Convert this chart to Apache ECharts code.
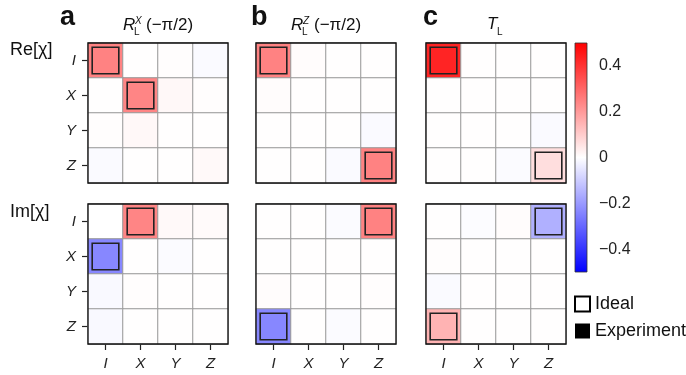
<!DOCTYPE html>
<html><head><meta charset="utf-8">
<script src="https://cdn.jsdelivr.net/npm/echarts@6/dist/echarts.min.js"></script>
<style>html,body{margin:0;padding:0;background:#fff}#c{width:686px;height:375px}</style>
</head><body><div id="c"></div>
<script>
const categories = ['I', 'X', 'Y', 'Z'];
// experiment matrices: rows top→bottom I,X,Y,Z ; cols left→right I,X,Y,Z
const expReA = [
  [0.245, 0.002, 0.003, -0.010],
  [0.002, 0.240, 0.013, 0.003],
  [0.003, 0.013, 0.002, 0.002],
  [-0.010, 0.002, 0.002, 0.012]
];
const expReB = [
  [0.245, 0.005, 0.001, 0.001],
  [0.005, 0.001, 0.001, 0.001],
  [0.001, 0.001, 0.001, -0.010],
  [0.001, 0.001, -0.010, 0.245]
];
const expReC = [
  [0.430, 0.001, 0.001, 0.001],
  [0.001, 0.001, 0.001, 0.001],
  [0.001, 0.001, 0.001, -0.010],
  [0.001, 0.001, -0.008, 0.065]
];
const expImA = [
  [0.000, 0.240, 0.012, 0.010],
  [-0.235, 0.001, -0.008, 0.001],
  [-0.012, 0.004, 0.001, 0.001],
  [-0.012, 0.001, 0.001, 0.001]
];
const expImB = [
  [0.001, 0.001, -0.008, 0.245],
  [0.001, 0.001, 0.001, 0.001],
  [0.006, 0.001, 0.001, 0.003],
  [-0.235, 0.001, -0.008, 0.001]
];
const expImC = [
  [0.001, -0.006, 0.006, -0.155],
  [0.004, 0.001, 0.001, 0.001],
  [-0.010, 0.001, 0.001, 0.001],
  [0.150, 0.001, 0.001, 0.001]
];
// ideal nonzero entries: [row, col, value]
const idealReA = [[0, 0, 0.25], [1, 1, 0.25]];
const idealReB = [[0, 0, 0.25], [3, 3, 0.25]];
const idealReC = [[0, 0, 0.427], [3, 3, 0.073]];
const idealImA = [[0, 1, 0.25], [1, 0, -0.25]];
const idealImB = [[0, 3, 0.25], [3, 0, -0.25]];
const idealImC = [[0, 3, -0.177], [3, 0, 0.177]];
const cbRange = [-0.5, 0.5];
const cbTicks = [-0.4, -0.2, 0, 0.2, 0.4];

const expMats = [expReA, expReB, expReC, expImA, expImB, expImC];
const idealLists = [idealReA, idealReB, idealReC, idealImA, idealImB, idealImC];

const FONT = 'Liberation Sans';
const colLeft = [88, 256, 426];
const rowTop = [43, 204];
const SIZE = 140;

const grids = [], xAxes = [], yAxes = [], series = [];
for (let p = 0; p < 6; p++) {
  const r = Math.floor(p / 3), c = p % 3;
  grids.push({left: colLeft[c], top: rowTop[r], width: SIZE, height: SIZE,
    show: true, borderColor: '#111', borderWidth: 1.3, backgroundColor: 'transparent', z: 10});
  xAxes.push({type: 'category', gridIndex: p, data: categories, position: 'bottom',
    axisLine: {show: false}, splitLine: {show: false},
    axisTick: {show: r === 1, alignWithLabel: true, length: 6, lineStyle: {color: '#222', width: 1.2}},
    axisLabel: {show: r === 1, margin: 12, fontSize: 15, fontStyle: 'italic', color: '#222', fontFamily: FONT}});
  yAxes.push({type: 'category', gridIndex: p, data: categories, inverse: true,
    axisLine: {show: false}, splitLine: {show: false},
    axisTick: {show: c === 0, alignWithLabel: true, length: 6, lineStyle: {color: '#222', width: 1.2}},
    axisLabel: {show: c === 0, margin: 12, fontSize: 15, fontStyle: 'italic', color: '#222', fontFamily: FONT}});
  const data = [];
  expMats[p].forEach((row, i) => row.forEach((v, j) => data.push([j, i, v])));
  series.push({name: 'Experiment', type: 'heatmap', xAxisIndex: p, yAxisIndex: p, data,
    itemStyle: {borderColor: '#999', borderWidth: 1}, emphasis: {disabled: true}, z: 2});
}
for (let p = 0; p < 6; p++) {
  series.push({name: 'Ideal', type: 'custom', xAxisIndex: p, yAxisIndex: p,
    data: idealLists[p].map(d => [d[1], d[0], d[2]]),
    renderItem: (params, api) => {
      const ctr = api.coord([api.value(0), api.value(1)]);
      const s = api.size([1, 1]);
      const w = s[0] * 0.76;
      return {type: 'rect', shape: {x: ctr[0] - w / 2, y: ctr[1] - w / 2, width: w, height: w},
        style: {fill: 'rgba(0,0,0,0)', stroke: '#222', lineWidth: 1.6}};
    }, z: 5, silent: true});
}
// colorbar
grids.push({left: 575, top: 43, width: 12, height: 229});
xAxes.push({type: 'value', gridIndex: 6, min: 0, max: 1, show: false});
yAxes.push({type: 'value', gridIndex: 6, min: cbRange[0], max: cbRange[1], position: 'right',
  axisLine: {show: false}, splitLine: {show: false},
  axisTick: {show: true, length: 5, customValues: cbTicks, lineStyle: {color: '#222', width: 1.2}},
  axisLabel: {show: true, margin: 12, fontSize: 16, color: '#222', fontFamily: FONT, customValues: cbTicks,
    formatter: v => (v < 0 ? '\u2212' : '') + String(Math.abs(Math.round(v * 10) / 10))}});
series.push({type: 'custom', name: 'colorbar', xAxisIndex: 6, yAxisIndex: 6, data: [[0, cbRange[1], 1, cbRange[0]]],
  renderItem: (params, api) => {
    const p1 = api.coord([api.value(0), api.value(1)]);
    const p2 = api.coord([api.value(2), api.value(3)]);
    return {type: 'rect', shape: {x: p1[0], y: p1[1], width: p2[0] - p1[0], height: p2[1] - p1[1]},
      style: {fill: {type: 'linear', x: 0, y: 0, x2: 0, y2: 1, colorStops: [
        {offset: 0, color: '#ff0000'}, {offset: 0.5, color: '#ffffff'}, {offset: 1, color: '#0000ff'}]},
        stroke: '#333', lineWidth: 0.8}};
  }, silent: true});

const txt = (text, x, y, font, align) => ({type: 'text', x, y, silent: true,
  style: {text, font, fill: '#111', textAlign: align || 'left', textVerticalAlign: 'middle'}});
const graphic = [
  txt('a', 60, 18, `900 27px "${FONT}"`),
  txt('b', 251, 18, `900 27px "${FONT}"`),
  txt('c', 423, 18, `900 27px "${FONT}"`),
  txt('Re[\u03c7]', 10, 50, `18px "${FONT}"`),
  txt('Im[\u03c7]', 10, 212, `18px "${FONT}"`),
  // panel a title
  txt('R', 123, 25, `italic 17px "${FONT}"`),
  txt('X', 135, 21, `italic 10px "${FONT}"`),
  txt('L', 134, 32, `10px "${FONT}"`),
  txt('(\u2212\u03c0/2)', 146, 25, `17px "${FONT}"`),
  // panel b title
  txt('R', 291, 25, `italic 17px "${FONT}"`),
  txt('Z', 303, 21, `italic 10px "${FONT}"`),
  txt('L', 302, 32, `10px "${FONT}"`),
  txt('(\u2212\u03c0/2)', 314, 25, `17px "${FONT}"`),
  // panel c title
  txt('T', 487, 24, `italic 17px "${FONT}"`),
  txt('L', 497, 32, `10px "${FONT}"`)
];

const chart = echarts.init(document.getElementById('c'), null, {renderer: 'canvas'});
chart.setOption({
  backgroundColor: '#fff',
  animation: false,
  grid: grids, xAxis: xAxes, yAxis: yAxes, series,
  visualMap: {type: 'continuous', show: false, min: cbRange[0], max: cbRange[1], dimension: 2,
    seriesIndex: [0, 1, 2, 3, 4, 5], inRange: {color: ['#0000ff', '#ffffff', '#ff0000']}},
  legend: {orient: 'vertical', left: 574, top: 295, padding: 0, itemWidth: 15, itemHeight: 15, itemGap: 9,
    selectedMode: false, textStyle: {fontSize: 18, lineHeight: 15, color: '#111', fontFamily: FONT, width: 100, overflow: 'none'},
    data: [
      {name: 'Ideal', icon: 'rect', itemStyle: {color: '#fff', borderColor: '#000', borderWidth: 2}},
      {name: 'Experiment', icon: 'rect', itemStyle: {color: '#000', borderWidth: 0}}
    ]},
  graphic
});
</script></body></html>
